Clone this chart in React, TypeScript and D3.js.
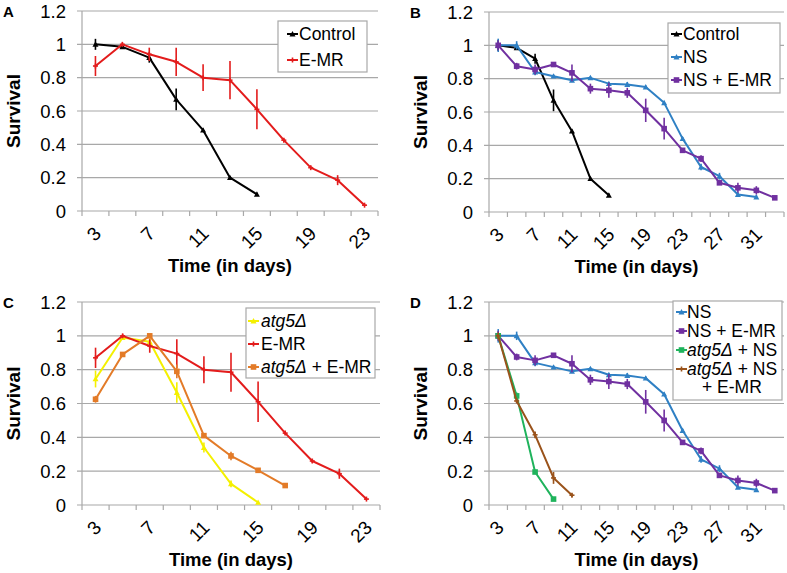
import React from "react";
import * as d3 from "d3";

// ---------- data ----------
const catsShort = [3, 5, 7, 9, 11, 13, 15, 17, 19, 21, 23];
const catsLong = [3, 5, 7, 9, 11, 13, 15, 17, 19, 21, 23, 25, 27, 29, 31, 33];
const tickLabelsShort = [3, 7, 11, 15, 19, 23];
const tickLabelsLong = [3, 7, 11, 15, 19, 23, 27, 31];
const yTicks = [0, 0.2, 0.4, 0.6, 0.8, 1, 1.2];

const controlValues = [1.0, 0.985, 0.92, 0.67, 0.485, 0.2, 0.1];
const controlErrors = [0.033, 0.01, 0.03, 0.065, 0.01, 0.01, 0.01];
const emrValues = [0.87, 1.0, 0.94, 0.895, 0.8, 0.785, 0.61, 0.425, 0.26, 0.185, 0.035];
const emrErrors = [0.06, 0.01, 0.04, 0.085, 0.08, 0.115, 0.12, 0.01, 0.01, 0.03, 0.005];
const nsValues = [1.0, 1.0, 0.84, 0.815, 0.79, 0.805, 0.77, 0.765, 0.75, 0.655, 0.44, 0.27, 0.215, 0.105, 0.09];
const nsErrors = [0.04, 0.025, 0.02, 0.01, 0.01, 0.01, 0.01, 0.015, 0.01, 0.01, 0.01, 0.02, 0.02, 0.01, 0.01];
const nsEmrValues = [1.0, 0.875, 0.855, 0.885, 0.835, 0.74, 0.73, 0.715, 0.61, 0.5, 0.37, 0.32, 0.175, 0.145, 0.13, 0.085];
const nsEmrErrors = [0.03, 0.02, 0.03, 0.01, 0.05, 0.03, 0.045, 0.03, 0.07, 0.065, 0.01, 0.02, 0.01, 0.03, 0.025, 0.01];
const atg5Values = [0.745, 0.99, 0.965, 0.665, 0.34, 0.125, 0.015];
const atg5Errors = [0.05, 0.01, 0.03, 0.06, 0.03, 0.02, 0.005];
const atg5EmrValues = [0.625, 0.89, 1.0, 0.79, 0.41, 0.29, 0.205, 0.115];
const atg5EmrErrors = [0.02, 0.01, 0.01, 0.04, 0.01, 0.025, 0.01, 0.01];
const atg5NsValues = [1.0, 0.645, 0.195, 0.035];
const atg5NsErrors = [0.01, 0.02, 0.01, 0.005];
const atg5NsEmrValues = [1.0, 0.615, 0.415, 0.16, 0.058];
const atg5NsEmrErrors = [0.02, 0.01, 0.02, 0.035, 0.01];

// ---------- styles ----------
const FONT = "'Liberation Sans', Arial, sans-serif";
const C_CONTROL = "#000000";
const C_EMR = "#e31c1c";
const C_NS = "#2f80c4";
const C_NSEMR = "#7030a0";
const C_ATG5 = "#f4f000";
const C_ATG5EMR = "#e37b28";
const C_ATG5NS = "#1fb35c";
const C_ATG5NSEMR = "#9a531b";
const GRID = "#a8a8a8";

type Marker = "tri" | "sq" | "plus";
interface Series {
  name: React.ReactNode;
  values: number[];
  errors: number[];
  color: string;
  marker: Marker;
}

const atg = (rest: string) => (
  <>
    <tspan fontStyle="italic">atg5Δ</tspan>
    {rest}
  </>
);

const S_control: Series = { name: "Control", values: controlValues, errors: controlErrors, color: C_CONTROL, marker: "tri" };
const S_emr: Series = { name: "E-MR", values: emrValues, errors: emrErrors, color: C_EMR, marker: "plus" };
const S_ns: Series = { name: "NS", values: nsValues, errors: nsErrors, color: C_NS, marker: "tri" };
const S_nsEmr: Series = { name: "NS + E-MR", values: nsEmrValues, errors: nsEmrErrors, color: C_NSEMR, marker: "sq" };
const S_atg5: Series = { name: atg(""), values: atg5Values, errors: atg5Errors, color: C_ATG5, marker: "tri" };
const S_atg5Emr: Series = { name: atg(" + E-MR"), values: atg5EmrValues, errors: atg5EmrErrors, color: C_ATG5EMR, marker: "sq" };
const S_atg5Ns: Series = { name: atg(" + NS"), values: atg5NsValues, errors: atg5NsErrors, color: C_ATG5NS, marker: "sq" };
const S_atg5NsEmr: Series = { name: atg(" + NS"), values: atg5NsEmrValues, errors: atg5NsEmrErrors, color: C_ATG5NSEMR, marker: "plus" };

function MarkerShape({ x, y, type, color }: { x: number; y: number; type: Marker; color: string }) {
  if (type === "tri") {
    const s = 3;
    return <path d={`M${x},${y - s}L${x + s},${y + s * 0.8}L${x - s},${y + s * 0.8}Z`} fill={color} />;
  }
  if (type === "sq") {
    return <rect x={x - 2.8} y={y - 2.8} width={5.6} height={5.6} fill={color} />;
  }
  return (
    <g stroke={color} strokeWidth={1.6}>
      <line x1={x - 2.5} x2={x + 2.5} y1={y} y2={y} />
      <line x1={x} x2={x} y1={y - 2.5} y2={y + 2.5} />
    </g>
  );
}

interface LegendSpec {
  x0: number; y0: number; x1: number; y1: number;
  sampleX: number; textX: number;
  baselines: number[];
  extra?: { text: string; x: number; y: number };
}

function Panel({
  letter, left, right, top, bottom, cats, tickLabels, series, legend,
}: {
  letter: string; left: number; right: number; top: number; bottom: number;
  cats: number[]; tickLabels: number[]; series: Series[]; legend: LegendSpec;
}) {
  const x = d3.scaleBand<number>().domain(cats).range([left, right]).padding(0);
  const y = d3.scaleLinear().domain([0, 1.2]).range([bottom, top]);
  const cx = (c: number) => (x(c) as number) + x.bandwidth() / 2;
  const line = d3.line<[number, number]>().x((d) => d[0]).y((d) => d[1]);
  const boundaries = [...cats.map((c) => x(c) as number), right];

  return (
    <g>
      <text x={left - 79} y={top + 6} fontFamily={FONT} fontWeight="bold" fontSize={15}>{letter}</text>
      {yTicks.map((t) => (
        <g key={t}>
          <line x1={left - 5} x2={right} y1={y(t)} y2={y(t)} stroke={GRID} strokeWidth={1.2} />
          <text x={left - 16} y={y(t)} dy="0.36em" textAnchor="end" fontFamily={FONT} fontSize={18.5}>
            {d3.format("~g")(t)}
          </text>
        </g>
      ))}
      <line x1={left} x2={left} y1={top} y2={bottom} stroke={GRID} strokeWidth={1.2} />
      {boundaries.map((b, i) => (
        <line key={i} x1={b} x2={b} y1={bottom} y2={bottom + 5} stroke={GRID} strokeWidth={1.2} />
      ))}
      {tickLabels.map((t) => (
        <text key={t} transform={`translate(${cx(t) + 2},${bottom + 19}) rotate(-45)`} dy="0.36em"
          textAnchor="end" fontFamily={FONT} fontSize={19}>{t}</text>
      ))}
      <text transform={`translate(${left - 62},${(top + bottom) / 2}) rotate(-90)`} textAnchor="middle"
        fontFamily={FONT} fontWeight="bold" fontSize={19}>Survival</text>
      <text x={(left + right) / 2} y={bottom + 61} textAnchor="middle" fontFamily={FONT} fontWeight="bold" fontSize={18.5}>
        Time (in days)
      </text>
      {series.map((s, si) => {
        const pts: [number, number][] = s.values.map((v, i) => [cx(cats[i]), y(v)]);
        return (
          <g key={si}>
            <path d={line(pts) as string} fill="none" stroke={s.color} strokeWidth={2} strokeLinejoin="round" />
            {s.values.map((v, i) => (
              <line key={i} x1={cx(cats[i])} x2={cx(cats[i])} y1={y(v - s.errors[i])} y2={y(v + s.errors[i])}
                stroke={s.color} strokeWidth={1.6} />
            ))}
            {pts.map((p, i) => (
              <MarkerShape key={i} x={p[0]} y={p[1]} type={s.marker} color={s.color} />
            ))}
          </g>
        );
      })}
      <rect x={legend.x0} y={legend.y0} width={legend.x1 - legend.x0} height={legend.y1 - legend.y0}
        fill="#fff" stroke={GRID} strokeWidth={1.2} />
      {series.map((s, si) => {
        const by = legend.baselines[si];
        const my = by - 6;
        return (
          <g key={si}>
            <line x1={legend.sampleX} x2={legend.sampleX + 11} y1={my} y2={my} stroke={s.color} strokeWidth={2} />
            <MarkerShape x={legend.sampleX + 5.5} y={my} type={s.marker} color={s.color} />
            <text x={legend.textX} y={by} fontFamily={FONT} fontSize={17.5}>{s.name}</text>
          </g>
        );
      })}
      {legend.extra && (
        <text x={legend.extra.x} y={legend.extra.y} fontFamily={FONT} fontSize={17.5}>{legend.extra.text}</text>
      )}
    </g>
  );
}

export default function App() {
  return (
    <svg width={787} height={573} style={{ position: "absolute", left: 0, top: 0, background: "#fff" }}>
      <rect x={0} y={0} width={787} height={573} fill="#fff" />
      <Panel letter="A" left={82} right={378} top={11} bottom={211} cats={catsShort} tickLabels={tickLabelsShort}
        series={[S_control, S_emr]}
        legend={{ x0: 278, y0: 21, x1: 367, y1: 72, sampleX: 287, textX: 299, baselines: [40, 66] }} />
      <Panel letter="B" left={489} right={784} top={12} bottom={212} cats={catsLong} tickLabels={tickLabelsLong}
        series={[S_control, S_ns, S_nsEmr]}
        legend={{ x0: 668, y0: 23, x1: 780, y1: 93, sampleX: 671, textX: 683, baselines: [40, 63, 86] }} />
      <Panel letter="C" left={82} right={380} top={302} bottom={505} cats={catsShort} tickLabels={tickLabelsShort}
        series={[S_atg5, S_emr, S_atg5Emr]}
        legend={{ x0: 246, y0: 308, x1: 375, y1: 378, sampleX: 248, textX: 261, baselines: [327, 350, 373] }} />
      <Panel letter="D" left={489} right={784} top={302} bottom={505} cats={catsLong} tickLabels={tickLabelsLong}
        series={[S_ns, S_nsEmr, S_atg5Ns, S_atg5NsEmr]}
        legend={{ x0: 673, y0: 301, x1: 782, y1: 400, sampleX: 676, textX: 687, baselines: [318, 337, 356, 375],
          extra: { text: "+ E-MR", x: 702, y: 393 } }} />
    </svg>
  );
}
